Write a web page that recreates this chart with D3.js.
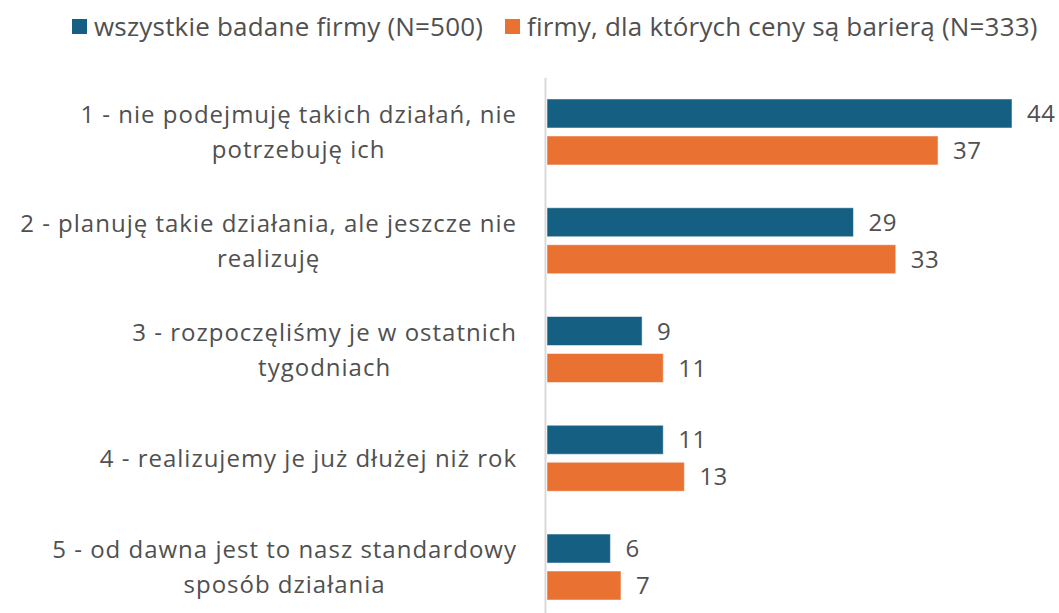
<!DOCTYPE html>
<html>
<head>
<meta charset="utf-8">
<script src="https://cdn.jsdelivr.net/npm/d3@7"></script>
<style>
  body { margin: 0; background: #fff; }
  svg text { font-family: "Open Sans", "Liberation Sans", sans-serif; fill: #505050; }
</style>
</head>
<body>
<svg id="chart" width="1059" height="613"></svg>
<script>
// categories, each one as lines of its label
var categories = [
    ["1 - nie podejmuję takich działań, nie", "potrzebuję ich"],
    ["2 - planuję takie działania, ale jeszcze nie", "realizuję"],
    ["3 - rozpoczęliśmy je w ostatnich", "tygodniach"],
    ["4 - realizujemy je już dłużej niż rok"],
    ["5 - od dawna jest to nasz standardowy", "sposób działania"]
];
var seriesNames = ["wszystkie badane firmy (N=500)", "firmy, dla których ceny są barierą (N=333)"];
var allFirms = [44, 29, 9, 11, 6];
var priceBarrier = [37, 33, 11, 13, 7];
var colors = ["#156082", "#E97132"];

var svg = d3.select("#chart");
var fontSize = 24;

var data = categories.map(function(c, i) {
    return {key: i, lines: c, values: [allFirms[i], priceBarrier[i]]};
});

var y = d3.scaleBand()
    .domain(data.map(function(d) { return d.key; }))
    .range([77.6, 621.4])
    .padding(0);

var ySub = d3.scaleBand()
    .domain([0, 1])
    .range([0, y.bandwidth()])
    .paddingInner(0.216)
    .paddingOuter(0.578);

var x = d3.scaleLinear().domain([0, 44]).range([547, 1012]);

// axis line
svg.append("line")
    .attr("x1", 545.5).attr("x2", 545.5)
    .attr("y1", 78).attr("y2", 613)
    .attr("stroke", "#d9d9d9")
    .attr("stroke-width", 2);

var groups = svg.selectAll(".grp")
    .data(data)
    .enter().append("g")
    .attr("class", "grp")
    .attr("transform", function(d) { return "translate(0," + y(d.key) + ")"; });

groups.selectAll("rect")
    .data(function(d) { return d.values; })
    .enter().append("rect")
    .attr("x", x(0))
    .attr("y", function(v, j) { return ySub(j); })
    .attr("width", function(v) { return x(v) - x(0); })
    .attr("height", ySub.bandwidth())
    .attr("fill", function(v, j) { return colors[j]; })
    .attr("stroke", "#ffffff")
    .attr("stroke-opacity", 0.5)
    .attr("stroke-width", 1);

groups.selectAll(".val")
    .data(function(d) { return d.values; })
    .enter().append("text")
    .attr("class", "val")
    .attr("x", function(v) { return x(v) + 15; })
    .attr("y", function(v, j) { return ySub(j) + ySub.bandwidth() / 2; })
    .attr("dy", "0.36em")
    .style("font-size", fontSize + "px")
    .style("letter-spacing", "0.5px")
    .text(function(v) { return v; });

// category labels: lines centred on each other, widest line ends at 517
var lineH = 35;
groups.each(function(d) {
    var g = d3.select(this);
    var n = d.lines.length;
    var texts = d.lines.map(function(l, k) {
        return g.append("text")
            .attr("y", y.bandwidth() / 2 + (k - (n - 1) / 2) * lineH)
            .attr("dy", "0.36em")
            .attr("text-anchor", "middle")
            .style("font-size", fontSize + "px")
            .style("letter-spacing", "1px")
            .text(l);
    });
    var maxW = d3.max(texts, function(t) { return t.node().getComputedTextLength(); });
    texts.forEach(function(t) { t.attr("x", 517 - maxW / 2); });
});

// legend
var legendX = [72, 505];
var leg = svg.selectAll(".leg")
    .data(seriesNames)
    .enter().append("g")
    .attr("class", "leg")
    .attr("transform", function(d, i) { return "translate(" + legendX[i] + ",0)"; });

leg.append("rect")
    .attr("x", 0).attr("y", 19)
    .attr("width", 15).attr("height", 15)
    .attr("fill", function(d, i) { return colors[i]; });

leg.append("text")
    .attr("x", 22)
    .attr("y", 27)
    .attr("dy", "0.36em")
    .style("font-size", "26px")
    .style("letter-spacing", "0.2px")
    .text(function(d) { return d; });
</script>
</body>
</html>
